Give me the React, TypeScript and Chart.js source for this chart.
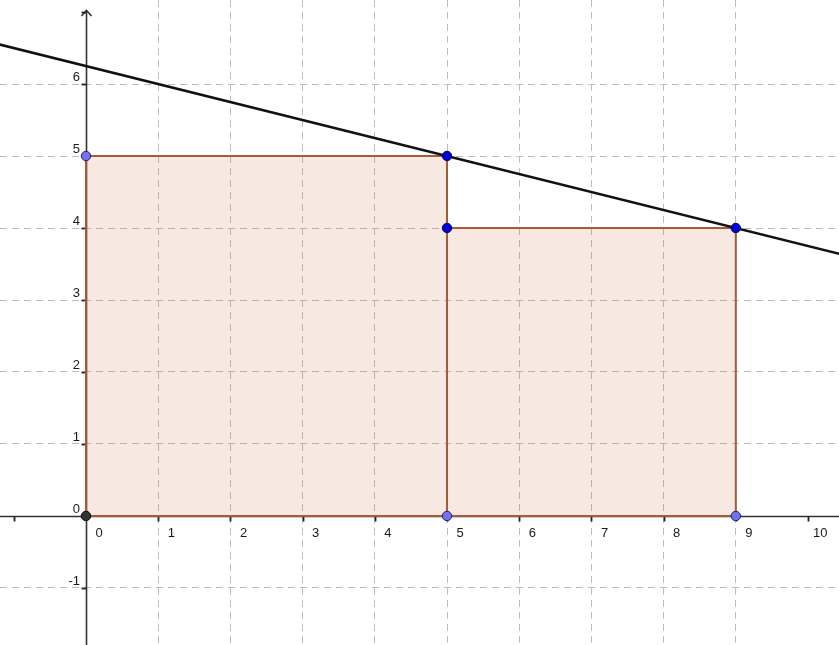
import React, { useEffect, useRef } from "react";
import { Chart, registerables } from "chart.js";

Chart.register(...registerables);

// ---- data ----
const X_MIN = -1.191;
const X_MAX = 10.429;
const Y_MIN = -1.792;
const Y_MAX = 7.167;

const xTickLabels = [0, 1, 2, 3, 4, 5, 6, 7, 8, 9, 10];
const yTickLabels = [-1, 0, 1, 2, 3, 4, 5, 6];

const rect1X = [0, 0, 5, 5, 0];
const rect1Y = [0, 5, 5, 0, 0];
const rect2X = [5, 5, 9, 9, 5];
const rect2Y = [0, 4, 4, 0, 0];

const lineX = [-1.2, 10.5];
const lineY = [6.55, 3.625];

const darkPointsX = [5, 5, 9];
const darkPointsY = [5, 4, 4];
const lightPointsX = [0, 5, 9];
const lightPointsY = [5, 0, 0];
const originX = [0];
const originY = [0];

const zip = (xs: number[], ys: number[]) => xs.map((x, i) => ({ x, y: ys[i] }));

const BROWN = "#a65a3a";
const PINK = "rgba(204,102,51,0.15)";

const axesPlugin = {
  id: "ggbAxes",
  beforeDatasetsDraw(chart: any) {
    const { ctx, scales } = chart;
    const xs = scales.x;
    const ys = scales.y;
    const x0 = Math.round(xs.getPixelForValue(0)) + 0.5;
    const y0 = Math.round(ys.getPixelForValue(0)) + 0.5;
    ctx.save();
    ctx.strokeStyle = "#333";
    ctx.lineWidth = 1.6;
    ctx.setLineDash([]);
    // x axis
    ctx.beginPath();
    ctx.moveTo(0, y0);
    ctx.lineTo(chart.width, y0);
    ctx.stroke();
    // y axis
    ctx.beginPath();
    ctx.moveTo(x0, chart.height);
    ctx.lineTo(x0, 10.5);
    ctx.stroke();
    // arrow
    ctx.beginPath();
    ctx.moveTo(x0 - 5, 16);
    ctx.lineTo(x0, 10.5);
    ctx.lineTo(x0 + 5, 16);
    ctx.stroke();
    // ticks
    ctx.lineWidth = 1.8;
    ctx.strokeStyle = "#222";
    for (let v = -1; v <= 10; v++) {
      if (v === 0) continue;
      const px = Math.round(xs.getPixelForValue(v)) + 0.5;
      ctx.beginPath();
      ctx.moveTo(px, y0);
      ctx.lineTo(px, y0 + 5);
      ctx.stroke();
    }
    for (let v = -1; v <= 7; v++) {
      if (v === 0) continue;
      const py = Math.round(ys.getPixelForValue(v)) + 0.5;
      ctx.beginPath();
      ctx.moveTo(x0, py);
      ctx.lineTo(x0 - 5, py);
      ctx.stroke();
    }
    // labels
    ctx.fillStyle = "#1a1a1a";
    ctx.font = '13px "Liberation Sans", Arial, sans-serif';
    ctx.textBaseline = "alphabetic";
    ctx.textAlign = "left";
    xTickLabels.forEach((v) => {
      const px = xs.getPixelForValue(v);
      ctx.fillText(String(v), px + (v === 10 ? 5 : 9.5), y0 + 20);
    });
    ctx.textAlign = "right";
    yTickLabels.forEach((v) => {
      const py = ys.getPixelForValue(v);
      ctx.fillText(String(v), x0 - 6.5, py - 3);
    });
    ctx.restore();
  },
};

export default function App() {
  const ref = useRef<HTMLCanvasElement>(null);
  useEffect(() => {
    document.body.style.margin = "0";
    const canvas = ref.current!;
    const integerTicks = (scale: any) => {
      scale.ticks = scale.ticks.filter(
        (t: any) => Number.isInteger(t.value) && t.value !== 0
      );
    };
    const pointDs = (xs: number[], ys: number[], bg: string, bd: string) => ({
      type: "scatter" as const,
      data: zip(xs, ys),
      pointRadius: 4.7,
      pointBackgroundColor: bg,
      pointBorderColor: bd,
      pointBorderWidth: 1,
      showLine: false,
    });
    const chart = new Chart(canvas, {
      type: "scatter",
      data: {
        datasets: [
          pointDs(originX, originY, "#333333", "#000000"),
          pointDs(darkPointsX, darkPointsY, "#0000dd", "#000050"),
          pointDs(lightPointsX, lightPointsY, "#7272ee", "#20206a"),
          {
            type: "line",
            data: zip(lineX, lineY),
            borderColor: "#111111",
            borderWidth: 2.6,
            pointRadius: 0,
            fill: false,
          } as any,
          {
            type: "line",
            data: zip(rect1X, rect1Y),
            borderColor: BROWN,
            borderWidth: 2,
            pointRadius: 0,
            fill: false,
          } as any,
          {
            type: "line",
            data: zip(rect2X, rect2Y),
            borderColor: BROWN,
            borderWidth: 2,
            pointRadius: 0,
            fill: false,
          } as any,
          {
            type: "line",
            data: zip(rect1X.slice(1, 3), rect1Y.slice(1, 3)),
            borderWidth: 0,
            borderColor: "rgba(0,0,0,0)",
            backgroundColor: PINK,
            pointRadius: 0,
            fill: "origin",
          } as any,
          {
            type: "line",
            data: zip(rect2X.slice(1, 3), rect2Y.slice(1, 3)),
            borderWidth: 0,
            borderColor: "rgba(0,0,0,0)",
            backgroundColor: PINK,
            pointRadius: 0,
            fill: "origin",
          } as any,
        ],
      },
      options: {
        responsive: false,
        animation: false,
        layout: { padding: 0, autoPadding: false },
        plugins: {
          legend: { display: false },
          tooltip: { enabled: false },
        },
        events: [],
        scales: {
          x: {
            type: "linear",
            min: X_MIN,
            max: X_MAX,
            ticks: { display: false, stepSize: 1 },
            grid: { color: "#bdbdbd", lineWidth: 1, drawTicks: false },
            border: { display: false, dash: [7, 5] },
            afterBuildTicks: integerTicks,
          },
          y: {
            type: "linear",
            min: Y_MIN,
            max: Y_MAX,
            ticks: { display: false, stepSize: 1 },
            grid: { color: "#bdbdbd", lineWidth: 1, drawTicks: false },
            border: { display: false, dash: [7, 5] },
            afterBuildTicks: integerTicks,
          },
        },
      } as any,
      plugins: [axesPlugin],
    });
    return () => chart.destroy();
  }, []);
  return (
    <div style={{ position: "absolute", left: 0, top: 0, width: 839, height: 645 }}>
      <canvas ref={ref} width={839} height={645} style={{ display: "block" }} />
    </div>
  );
}
